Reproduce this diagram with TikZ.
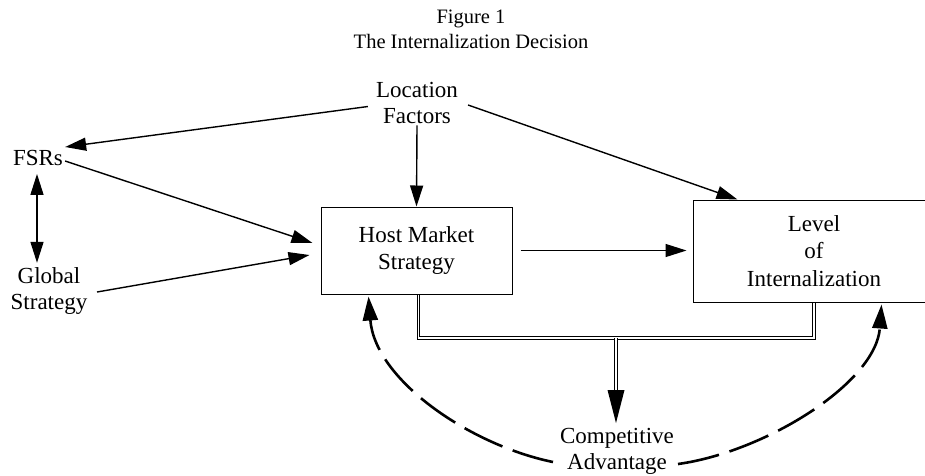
\documentclass[tikz,border=0pt]{standalone}
\usepackage{fontspec}
\setmainfont{Liberation Serif}
\usetikzlibrary{arrows.meta,calc}
\begin{document}
\begin{tikzpicture}[x=1pt,y=-1pt,
  lbl/.style={align=center, inner sep=2pt, font=\fontsize{23}{26}\selectfont},
  boxnode/.style={draw, line width=1pt, align=center, inner sep=0pt, font=\fontsize{23}{27.5}\selectfont},
  arr/.style={line width=1.4pt, -{Triangle[length=21pt,width=13pt]}},
  darr/.style={line width=1.4pt, {Triangle[length=21pt,width=13pt]}-{Triangle[length=21pt,width=13pt]}},
  dbl/.style={double, double distance=1.6pt, line width=0.9pt},
  dsh/.style={line width=2.6pt, dash pattern=on 42pt off 11pt, -{Triangle[length=24pt,width=15pt]}}]
\useasboundingbox (0,0) rectangle (925,475);

\node[lbl, font=\fontsize{20.5}{25}\selectfont] (title) at (471,29) {Figure 1\\The Internalization Decision};
\node[lbl] (loc) at (417,102.5) {Location\\Factors};
\node[lbl] (fsr) at (38,158) {FSRs};
\node[lbl] (glob) at (49,290.5) {Global\\Strategy};
\node[boxnode, minimum width=191pt, minimum height=87pt] (host) at (416.5,250.5) {Host Market\\Strategy};
\node[boxnode, minimum width=242pt, minimum height=102pt] (lev) at (814,251) {Level\\of\\Internalization};
\node[lbl] (comp) at (617,451.5) {Competitive\\Advantage};

\coordinate (jn) at (616,338);
\coordinate (tip) at (616,423);
\coordinate (dl) at (553,462);
\coordinate (dr) at (678,464);

\draw[arr] ([xshift=-6pt,yshift=-4pt]loc.west) -- ([yshift=11pt]fsr.east);
\draw[arr] ([xshift=8pt,yshift=-2.5pt]loc.east) -- ([xshift=45pt]lev.north west);
\draw[arr] (loc.south) -- (host.north);
\draw[arr] ([yshift=-3pt]fsr.east) -- ([xshift=-8pt,yshift=7.5pt]host.west);
\draw[arr] ([xshift=7.5pt,yshift=-1.5pt]glob.east) -- ([xshift=-11pt,yshift=-4.5pt]host.west);
\draw[darr, shorten <=6pt, shorten >=2pt] ([xshift=-1pt]fsr.south) -- ([xshift=-1pt]fsr.south |- glob.north);
\draw[arr, shorten <=8pt, shorten >=6pt] (host.east) -- (host.east -| lev.west);

\draw[dbl] ([xshift=2pt]host.south) |- (jn) -| (lev.south);
\draw[dbl] (jn) -- ([yshift=31pt]tip);
\fill (tip) -- ++(-8.5,-33) -- ++(17,0) -- cycle;

\draw[dsh] (dl) .. controls (470,445) and (375,380) .. ([xshift=48pt,yshift=-2pt]host.south west);
\draw[dsh] (dr) .. controls (765,452) and (876,383) .. ([xshift=189pt,yshift=-2pt]lev.south west);
\end{tikzpicture}
\end{document}
